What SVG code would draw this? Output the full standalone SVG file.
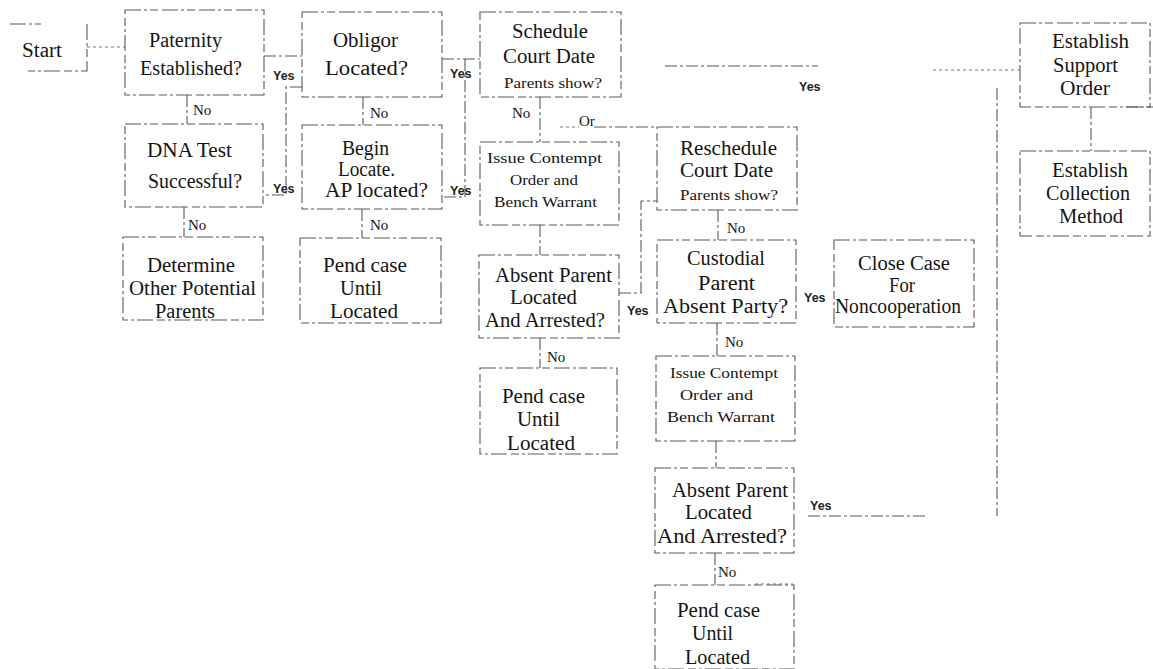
<svg xmlns="http://www.w3.org/2000/svg" width="1153" height="669" viewBox="0 0 1153 669">
<style>
.bg{fill:#fff}
.box{fill:none;stroke:#5a5a5a;stroke-width:1.1;stroke-dasharray:16 3 3 3 8 4}
.ln{fill:none;stroke:#5a5a5a;stroke-width:1.1;stroke-dasharray:12 3 3 3}
.dot{fill:none;stroke:#777;stroke-width:1;stroke-dasharray:3 3}
.t{font-family:"Liberation Serif","Times New Roman",serif;font-size:20px;fill:#151515}
.s{font-family:"Liberation Serif","Times New Roman",serif;font-size:15px;fill:#151515}
.y{font-family:"Liberation Sans",Arial,sans-serif;font-size:12.5px;font-weight:bold;fill:#222}
.n{font-family:"Liberation Serif","Times New Roman",serif;font-size:15px;fill:#151515}
</style>
<rect class="bg" x="0" y="0" width="1153" height="669"/>

<g id="connectors">
  <path class="dot" d="M87,47 H125"/>
  <path class="ln" d="M264,56 H302"/>
  <path class="ln" d="M302,87 H286 V195 H263"/>
  <path class="ln" d="M187,95 V124"/>
  <path class="ln" d="M184,207 V237"/>
  <path class="ln" d="M363,97 V125"/>
  <path class="ln" d="M362,209 V238"/>
  <path class="ln" d="M442,59 H480"/>
  <path class="ln" d="M465,59 V197 H442"/>
  <path class="ln" d="M540,97 V142"/>
  <path class="dot" d="M560,127 H579"/>
  <path class="ln" d="M594,127 H657"/>
  <path class="ln" d="M540,225 V255"/>
  <path class="ln" d="M540,338 V368"/>
  <path class="ln" d="M619,293 H641 V201 H657"/>
  <path class="ln" d="M718,210 V240"/>
  <path class="ln" d="M717,323 V356"/>
  <path class="ln" d="M716,441 V468"/>
  <path class="ln" d="M715,553 V585"/>
  <path class="dot" d="M755,584 H793"/>
  <path class="ln" d="M665,66 H818"/>
  <path class="dot" d="M933,70 H1020"/>
  <path class="ln" d="M997,88 V516"/>
  <path class="ln" d="M808,516 H927"/>
  <path class="ln" d="M1091,107 V151"/>
  <path class="ln" d="M1126,107 H1153"/>
  <text class="y" x="273" y="80">Yes</text>
  <text class="y" x="273" y="193">Yes</text>
  <text class="y" x="450" y="78">Yes</text>
  <text class="y" x="450" y="195">Yes</text>
  <text class="y" x="627" y="315">Yes</text>
  <text class="y" x="799" y="91">Yes</text>
  <text class="y" x="804" y="302">Yes</text>
  <text class="y" x="810" y="510">Yes</text>
  <text class="n" x="193" y="115">No</text>
  <text class="n" x="188" y="230">No</text>
  <text class="n" x="370" y="118">No</text>
  <text class="n" x="370" y="230">No</text>
  <text class="n" x="512" y="118">No</text>
  <text class="n" x="547" y="362">No</text>
  <text class="n" x="727" y="233">No</text>
  <text class="n" x="725" y="347">No</text>
  <text class="n" x="718" y="577">No</text>
  <text class="n" x="579" y="126">Or</text>
</g>

<g id="start">
  <path class="box" d="M10,24 H41 M87,24 V71 H28"/>
  <text class="t" x="22" y="57" textLength="40" lengthAdjust="spacingAndGlyphs">Start</text>
</g>
<g id="paternity">
  <rect class="box" x="125" y="10" width="139" height="85"/>
  <text class="t" x="149" y="47" textLength="73" lengthAdjust="spacingAndGlyphs">Paternity</text>
  <text class="t" x="140" y="75" textLength="102" lengthAdjust="spacingAndGlyphs">Established?</text>
</g>
<g id="dna">
  <rect class="box" x="125" y="124" width="138" height="83"/>
  <text class="t" x="147" y="157" textLength="85" lengthAdjust="spacingAndGlyphs">DNA Test</text>
  <text class="t" x="148" y="188" textLength="94" lengthAdjust="spacingAndGlyphs">Successful?</text>
</g>
<g id="determine">
  <rect class="box" x="123" y="237" width="140" height="83"/>
  <text class="t" x="147" y="272" textLength="88" lengthAdjust="spacingAndGlyphs">Determine</text>
  <text class="t" x="129" y="295" textLength="127" lengthAdjust="spacingAndGlyphs">Other Potential</text>
  <text class="t" x="155" y="318" textLength="60" lengthAdjust="spacingAndGlyphs">Parents</text>
</g>
<g id="obligor">
  <rect class="box" x="302" y="12" width="140" height="85"/>
  <text class="t" x="333" y="47" textLength="65" lengthAdjust="spacingAndGlyphs">Obligor</text>
  <text class="t" x="325" y="75" textLength="83" lengthAdjust="spacingAndGlyphs">Located?</text>
</g>
<g id="begin-locate">
  <rect class="box" x="302" y="125" width="140" height="84"/>
  <text class="t" x="342" y="155" textLength="47" lengthAdjust="spacingAndGlyphs">Begin</text>
  <text class="t" x="338" y="176" textLength="57" lengthAdjust="spacingAndGlyphs">Locate.</text>
  <text class="t" x="325" y="197" textLength="103" lengthAdjust="spacingAndGlyphs">AP located?</text>
</g>
<g id="pend1">
  <rect class="box" x="300" y="238" width="141" height="85"/>
  <text class="t" x="323" y="272" textLength="84" lengthAdjust="spacingAndGlyphs">Pend case</text>
  <text class="t" x="340" y="295" textLength="42" lengthAdjust="spacingAndGlyphs">Until</text>
  <text class="t" x="330" y="318" textLength="68" lengthAdjust="spacingAndGlyphs">Located</text>
</g>
<g id="schedule">
  <rect class="box" x="480" y="12" width="141" height="85"/>
  <text class="t" x="512" y="38" textLength="76" lengthAdjust="spacingAndGlyphs">Schedule</text>
  <text class="t" x="503" y="63" textLength="92" lengthAdjust="spacingAndGlyphs">Court Date</text>
  <text class="s" x="504" y="88" textLength="98" lengthAdjust="spacingAndGlyphs">Parents show?</text>
</g>
<g id="contempt1">
  <rect class="box" x="480" y="142" width="139" height="83"/>
  <text class="s" x="487" y="163" textLength="115" lengthAdjust="spacingAndGlyphs">Issue Contempt</text>
  <text class="s" x="510" y="185" textLength="68" lengthAdjust="spacingAndGlyphs">Order and</text>
  <text class="s" x="494" y="207" textLength="103" lengthAdjust="spacingAndGlyphs">Bench Warrant</text>
</g>
<g id="absent1">
  <rect class="box" x="479" y="255" width="140" height="83"/>
  <text class="t" x="495" y="282" textLength="117" lengthAdjust="spacingAndGlyphs">Absent Parent</text>
  <text class="t" x="510" y="304" textLength="67" lengthAdjust="spacingAndGlyphs">Located</text>
  <text class="t" x="485" y="327" textLength="120" lengthAdjust="spacingAndGlyphs">And Arrested?</text>
</g>
<g id="pend2">
  <rect class="box" x="480" y="368" width="137" height="86"/>
  <text class="t" x="502" y="403" textLength="83" lengthAdjust="spacingAndGlyphs">Pend case</text>
  <text class="t" x="517" y="426" textLength="43" lengthAdjust="spacingAndGlyphs">Until</text>
  <text class="t" x="507" y="450" textLength="68" lengthAdjust="spacingAndGlyphs">Located</text>
</g>
<g id="reschedule">
  <rect class="box" x="657" y="127" width="140" height="83"/>
  <text class="t" x="680" y="155" textLength="97" lengthAdjust="spacingAndGlyphs">Reschedule</text>
  <text class="t" x="680" y="177" textLength="93" lengthAdjust="spacingAndGlyphs">Court Date</text>
  <text class="s" x="680" y="200" textLength="98" lengthAdjust="spacingAndGlyphs">Parents show?</text>
</g>
<g id="custodial">
  <rect class="box" x="657" y="240" width="139" height="83"/>
  <text class="t" x="687" y="265" textLength="78" lengthAdjust="spacingAndGlyphs">Custodial</text>
  <text class="t" x="698" y="290" textLength="57" lengthAdjust="spacingAndGlyphs">Parent</text>
  <text class="t" x="663" y="313" textLength="125" lengthAdjust="spacingAndGlyphs">Absent Party?</text>
</g>
<g id="close-case">
  <rect class="box" x="834" y="240" width="140" height="87"/>
  <text class="t" x="858" y="270" textLength="92" lengthAdjust="spacingAndGlyphs">Close Case</text>
  <text class="t" x="889" y="292" textLength="26" lengthAdjust="spacingAndGlyphs">For</text>
  <text class="t" x="835" y="313" textLength="126" lengthAdjust="spacingAndGlyphs">Noncooperation</text>
</g>
<g id="contempt2">
  <rect class="box" x="656" y="356" width="139" height="85"/>
  <text class="s" x="670" y="378" textLength="108" lengthAdjust="spacingAndGlyphs">Issue Contempt</text>
  <text class="s" x="680" y="400" textLength="73" lengthAdjust="spacingAndGlyphs">Order and</text>
  <text class="s" x="667" y="422" textLength="108" lengthAdjust="spacingAndGlyphs">Bench Warrant</text>
</g>
<g id="absent2">
  <rect class="box" x="655" y="468" width="139" height="85"/>
  <text class="t" x="672" y="497" textLength="116" lengthAdjust="spacingAndGlyphs">Absent Parent</text>
  <text class="t" x="685" y="519" textLength="67" lengthAdjust="spacingAndGlyphs">Located</text>
  <text class="t" x="657" y="543" textLength="130" lengthAdjust="spacingAndGlyphs">And Arrested?</text>
</g>
<g id="pend3">
  <rect class="box" x="655" y="585" width="139" height="84"/>
  <text class="t" x="677" y="617" textLength="83" lengthAdjust="spacingAndGlyphs">Pend case</text>
  <text class="t" x="692" y="640" textLength="41" lengthAdjust="spacingAndGlyphs">Until</text>
  <text class="t" x="685" y="664" textLength="65" lengthAdjust="spacingAndGlyphs">Located</text>
</g>
<g id="support-order">
  <rect class="box" x="1020" y="23" width="130" height="84"/>
  <text class="t" x="1052" y="48" textLength="77" lengthAdjust="spacingAndGlyphs">Establish</text>
  <text class="t" x="1053" y="72" textLength="65" lengthAdjust="spacingAndGlyphs">Support</text>
  <text class="t" x="1060" y="95" textLength="50" lengthAdjust="spacingAndGlyphs">Order</text>
</g>
<g id="collection">
  <rect class="box" x="1020" y="151" width="130" height="85"/>
  <text class="t" x="1052" y="177" textLength="76" lengthAdjust="spacingAndGlyphs">Establish</text>
  <text class="t" x="1046" y="200" textLength="84" lengthAdjust="spacingAndGlyphs">Collection</text>
  <text class="t" x="1059" y="223" textLength="64" lengthAdjust="spacingAndGlyphs">Method</text>
</g>
</svg>
